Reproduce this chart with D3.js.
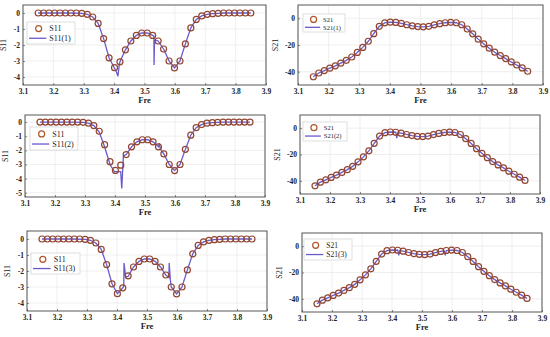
<!DOCTYPE html>
<html>
<head>
<meta charset="utf-8">
<script src="https://cdn.jsdelivr.net/npm/d3@7"></script>
<style>
  html, body { margin: 0; padding: 0; background: #fff; }
  svg { display: block; }
  text { font-family: "Liberation Serif", "DejaVu Serif", serif; fill: #222; }
</style>
</head>
<body>
<svg id="chart" width="550" height="337"></svg>
<script>
// measured frequency grid (GHz)
const freq = [3.1500, 3.1679, 3.1859, 3.2038, 3.2218, 3.2397, 3.2577, 3.2756, 3.2936, 3.3115,
  3.3295, 3.3474, 3.3654, 3.3833, 3.4013, 3.4192, 3.4372, 3.4551, 3.4731, 3.4910,
  3.5090, 3.5269, 3.5449, 3.5628, 3.5808, 3.5987, 3.6167, 3.6346, 3.6526, 3.6705,
  3.6885, 3.7064, 3.7244, 3.7423, 3.7603, 3.7782, 3.7962, 3.8141, 3.8321, 3.8500];

const s11 = [0, 0, 0, 0, 0, 0, 0, 0, -0.02, -0.08,
  -0.25, -0.65, -1.6, -2.8, -3.42, -3.05, -2.3, -1.75, -1.4, -1.25,
  -1.25, -1.4, -1.75, -2.25, -3.0, -3.43, -3.0, -1.93, -0.93, -0.4,
  -0.18, -0.08, -0.04, -0.02, 0, 0, 0, 0, 0, 0];

const s21 = [-43.8, -41.0, -39.2, -37.4, -35.6, -33.6, -31.5, -29.0, -25.6, -21.8,
  -17.2, -11.5, -6.0, -3.4, -2.9, -3.1, -3.8, -4.8, -5.6, -6.2,
  -6.4, -6.0, -4.9, -4.0, -3.3, -3.0, -3.3, -4.8, -8.0, -11.6,
  -15.6, -19.1, -22.4, -25.4, -27.9, -30.2, -32.7, -35.0, -37.2, -39.7];

// simulated curves, [freq, value]
const s11Sim1 = [[3.15, 0], [3.25, 0], [3.2936, -0.02], [3.3115, -0.08], [3.3295, -0.25], [3.3474, -0.65],
  [3.3654, -1.6], [3.3833, -2.8], [3.4013, -3.45], [3.408, -3.7], [3.4125, -3.95], [3.4165, -3.3],
  [3.4192, -3.05], [3.4372, -2.3], [3.4551, -1.75], [3.4731, -1.4], [3.491, -1.25], [3.509, -1.25],
  [3.5269, -1.4], [3.531, -1.45], [3.5315, -3.25], [3.533, -1.68], [3.5449, -1.75], [3.5628, -2.25],
  [3.5808, -3.0], [3.5987, -3.43], [3.6167, -3.0], [3.6346, -1.93], [3.6526, -0.93], [3.6705, -0.4],
  [3.6885, -0.18], [3.7064, -0.08], [3.7244, -0.04], [3.7423, -0.02], [3.76, 0], [3.85, 0]];

const s11Sim2 = [[3.15, 0], [3.25, 0], [3.2936, -0.02], [3.3115, -0.08], [3.3295, -0.25], [3.3474, -0.7],
  [3.3654, -1.75], [3.3833, -3.0], [3.398, -3.5], [3.419, -3.5], [3.4225, -4.7], [3.428, -2.4],
  [3.4372, -2.3], [3.4551, -1.75], [3.4731, -1.4], [3.491, -1.25], [3.509, -1.25], [3.5269, -1.4],
  [3.5449, -1.75], [3.548, -1.5], [3.551, -1.9], [3.5628, -2.25], [3.5808, -3.0], [3.5987, -3.43],
  [3.6167, -3.0], [3.6346, -1.93], [3.6526, -0.93], [3.6705, -0.4], [3.6885, -0.18], [3.7064, -0.08],
  [3.7244, -0.04], [3.7423, -0.02], [3.76, 0], [3.85, 0]];

const s11Sim3 = [[3.15, 0], [3.25, 0], [3.2936, -0.02], [3.3115, -0.08], [3.3295, -0.25], [3.3474, -0.65],
  [3.3654, -1.6], [3.3833, -2.8], [3.4013, -3.42], [3.4192, -3.05], [3.4225, -2.95], [3.4235, -1.5],
  [3.429, -2.4], [3.4372, -2.33], [3.4551, -1.75], [3.4731, -1.4], [3.491, -1.25], [3.509, -1.25],
  [3.5269, -1.4], [3.5449, -1.75], [3.5628, -2.25], [3.573, -2.4], [3.574, -1.5], [3.5775, -2.5],
  [3.5808, -3.0], [3.5987, -3.43], [3.6167, -3.0], [3.6346, -1.93], [3.6526, -0.93], [3.6705, -0.4],
  [3.6885, -0.18], [3.7064, -0.08], [3.7244, -0.04], [3.7423, -0.02], [3.76, 0], [3.85, 0]];

const s21Sim1 = [[3.15, -43.8], [3.1679, -41.0], [3.1859, -39.2], [3.2038, -37.4], [3.2218, -35.6],
  [3.2397, -33.6], [3.2577, -31.5], [3.2756, -29.0], [3.2936, -25.6], [3.3115, -21.8], [3.3295, -17.2],
  [3.3474, -11.5], [3.3654, -6.0], [3.3833, -3.4], [3.4013, -2.9], [3.4192, -3.1], [3.4372, -3.8],
  [3.4551, -4.8], [3.4731, -5.6], [3.491, -6.2], [3.509, -6.4], [3.5269, -6.0], [3.5449, -4.9],
  [3.5628, -4.0], [3.5808, -3.3], [3.5987, -3.0], [3.6167, -3.3], [3.6346, -4.8], [3.6526, -8.0],
  [3.6705, -11.6], [3.6885, -15.6], [3.7064, -19.1], [3.7244, -22.4], [3.7423, -25.4], [3.7603, -27.9],
  [3.7782, -30.2], [3.7962, -32.7], [3.8141, -35.0], [3.8321, -37.2], [3.85, -39.7]];

const s21Sim2 = [[3.15, -43.8], [3.1679, -41.0], [3.1859, -39.2], [3.2038, -37.4], [3.2218, -35.6],
  [3.2397, -33.6], [3.2577, -31.5], [3.2756, -29.0], [3.2936, -25.6], [3.3115, -21.8], [3.3295, -17.2],
  [3.3474, -11.5], [3.3654, -6.0], [3.3833, -3.4], [3.4013, -2.9], [3.4192, -3.1], [3.4225, -7.5],
  [3.426, -3.4], [3.4372, -3.8], [3.4551, -4.8], [3.4731, -5.6], [3.491, -6.2], [3.509, -6.4],
  [3.5269, -6.0], [3.5449, -4.9], [3.5628, -4.0], [3.5808, -3.3], [3.5987, -3.0], [3.6167, -3.3],
  [3.6346, -4.8], [3.6526, -8.0], [3.6705, -11.6], [3.6885, -15.6], [3.7064, -19.1], [3.7244, -22.4],
  [3.7423, -25.4], [3.7603, -27.9], [3.7782, -30.2], [3.7962, -32.7], [3.8141, -35.0], [3.8321, -37.2],
  [3.85, -39.7]];

const s21Sim3 = [[3.15, -43.8], [3.1679, -41.0], [3.1859, -39.2], [3.2038, -37.4], [3.2218, -35.6],
  [3.2397, -33.6], [3.2577, -31.5], [3.2756, -29.0], [3.2936, -25.6], [3.3115, -21.8], [3.3295, -17.2],
  [3.3474, -11.5], [3.3654, -6.0], [3.3833, -3.4], [3.4013, -2.9], [3.4192, -3.1], [3.4225, -7.0],
  [3.426, -3.4], [3.4372, -3.8], [3.4551, -4.8], [3.4731, -5.6], [3.491, -6.2], [3.509, -6.4],
  [3.5269, -6.0], [3.5449, -4.9], [3.5628, -4.0], [3.574, -3.6], [3.5775, -7.0], [3.581, -3.3],
  [3.5987, -3.0], [3.6167, -3.3], [3.6346, -4.8], [3.6526, -8.0], [3.6705, -11.6], [3.6885, -15.6],
  [3.7064, -19.1], [3.7244, -22.4], [3.7423, -25.4], [3.7603, -27.9], [3.7782, -30.2], [3.7962, -32.7],
  [3.8141, -35.0], [3.8321, -37.2], [3.85, -39.7]];

const xTicks = [3.1, 3.2, 3.3, 3.4, 3.5, 3.6, 3.7, 3.8, 3.9];
const s11Ticks4 = [0, -1, -2, -3, -4];
const s11Ticks5 = [0, -1, -2, -3, -4, -5];
const s21Ticks = [0, -20, -40];

const MARK = '#924632';
const LINE = '#6a5acd';

const svg = d3.select('#chart');

// one entry per subplot: layout + what to draw
const panels = [
  { l: 23, r: 266, t: 5, b: 85, dom: [-4.5, 0.5], ticks: s11Ticks4, name: 'S11', sim: s11Sim1, meas: s11, simName: 'S11(1)',
    leg: { x: 27, y: 22, w: 48, h: 22, fs: 8 } },
  { l: 298, r: 543, t: 5, b: 85, dom: [-50, 10], ticks: s21Ticks, name: 'S21', sim: s21Sim1, meas: s21, simName: 'S21(1)',
    leg: { x: 303, y: 14, w: 42, h: 18, fs: 6.5 } },
  { l: 25, r: 265, t: 115, b: 197, dom: [-5.3, 0.5], ticks: s11Ticks5, name: 'S11', sim: s11Sim2, meas: s11, simName: 'S11(2)',
    leg: { x: 30, y: 127, w: 48, h: 23, fs: 8 } },
  { l: 300, r: 540, t: 115, b: 194, dom: [-50, 10], ticks: s21Ticks, name: 'S21', sim: s21Sim2, meas: s21, simName: 'S21(2)',
    leg: { x: 303, y: 122, w: 44, h: 19, fs: 6.5 } },
  { l: 27, r: 267, t: 231, b: 311, dom: [-4.5, 0.5], ticks: s11Ticks4, name: 'S11', sim: s11Sim3, meas: s11, simName: 'S11(3)',
    leg: { x: 31, y: 253, w: 49, h: 21, fs: 8 } },
  { l: 302, r: 542, t: 233, b: 312, dom: [-50, 10], ticks: s21Ticks, name: 'S21', sim: s21Sim3, meas: s21, simName: 'S21(3)',
    leg: { x: 304, y: 239, w: 48, h: 21, fs: 7.5 } },
];

panels.forEach(p => {
  const x = d3.scaleLinear().domain([3.1, 3.9]).range([p.l, p.r]);
  const y = d3.scaleLinear().domain(p.dom).range([p.b, p.t]);
  const g = svg.append('g');

  // grid
  g.append('g').selectAll('line').data(xTicks).join('line')
    .attr('x1', d => x(d)).attr('x2', d => x(d)).attr('y1', p.t).attr('y2', p.b)
    .attr('stroke', '#e4e4e4').attr('stroke-width', 0.6);
  g.append('g').selectAll('line').data(p.ticks).join('line')
    .attr('y1', d => y(d)).attr('y2', d => y(d)).attr('x1', p.l).attr('x2', p.r)
    .attr('stroke', '#e4e4e4').attr('stroke-width', 0.6);

  // axes (inward ticks)
  const ax = g.append('g').attr('transform', `translate(0,${p.b})`)
    .call(d3.axisBottom(x).tickValues(xTicks).tickSizeInner(-2).tickSizeOuter(0).tickPadding(4).tickFormat(d3.format('.1f')));
  const ay = g.append('g').attr('transform', `translate(${p.l},0)`)
    .call(d3.axisLeft(y).tickValues(p.ticks).tickSizeInner(-2).tickSizeOuter(0).tickPadding(3).tickFormat(d => d === 0 ? '0' : '-' + Math.abs(d)));
  [ax, ay].forEach(a => {
    a.select('.domain').remove();
    a.selectAll('line').attr('stroke', '#444').attr('stroke-width', 0.6);
    a.selectAll('text').attr('font-size', 7.5).attr('fill', '#222')
      .style('font-family', '"Liberation Serif", serif').style('font-weight', 'bold');
  });

  // simulated line
  const line = d3.line().x(d => x(d[0])).y(d => y(d[1]));
  g.append('path').datum(p.sim).attr('d', line)
    .attr('fill', 'none').attr('stroke', LINE).attr('stroke-width', 1.3);

  // measured markers
  g.append('g').selectAll('circle').data(freq.map((f, i) => [f, p.meas[i]])).join('circle')
    .attr('cx', d => x(d[0])).attr('cy', d => y(d[1])).attr('r', 3)
    .attr('fill', 'none').attr('stroke', MARK).attr('stroke-width', 1.2);

  // frame
  g.append('rect').attr('x', p.l).attr('y', p.t).attr('width', p.r - p.l).attr('height', p.b - p.t)
    .attr('fill', 'none').attr('stroke', '#444').attr('stroke-width', 0.9);

  // axis titles
  g.append('text').attr('x', (p.l + p.r) / 2).attr('y', p.b + 18).attr('text-anchor', 'middle')
    .attr('font-size', 8.5).style('font-weight', 'bold').text('Fre');
  const yx = p.name === 'S11' ? p.l - 17 : p.l - 20;
  g.append('text').attr('transform', `translate(${yx},${(p.t + p.b) / 2}) rotate(-90)`)
    .attr('text-anchor', 'middle').attr('font-size', 8).text(p.name);

  // legend
  const L = p.leg;
  const lg = g.append('g');
  lg.append('rect').attr('x', L.x).attr('y', L.y).attr('width', L.w).attr('height', L.h)
    .attr('fill', '#fff').attr('stroke', '#c8c8c8').attr('stroke-width', 0.6);
  const r1 = L.y + L.h * 0.3, r2 = L.y + L.h * 0.74;
  const lineLen = L.w * 0.36;
  lg.append('circle').attr('cx', L.x + 3 + lineLen / 2).attr('cy', r1).attr('r', 3)
    .attr('fill', 'none').attr('stroke', '#b0562a').attr('stroke-width', 1.2);
  lg.append('line').attr('x1', L.x + 2).attr('x2', L.x + 2 + lineLen).attr('y1', r2).attr('y2', r2)
    .attr('stroke', LINE).attr('stroke-width', 1.3);
  lg.append('text').attr('x', L.x + 5 + lineLen).attr('y', r1).attr('dy', '0.35em')
    .attr('font-size', L.fs).text(p.name);
  lg.append('text').attr('x', L.x + 5 + lineLen).attr('y', r2).attr('dy', '0.35em')
    .attr('font-size', L.fs).text(p.simName);
});
</script>
</body>
</html>
